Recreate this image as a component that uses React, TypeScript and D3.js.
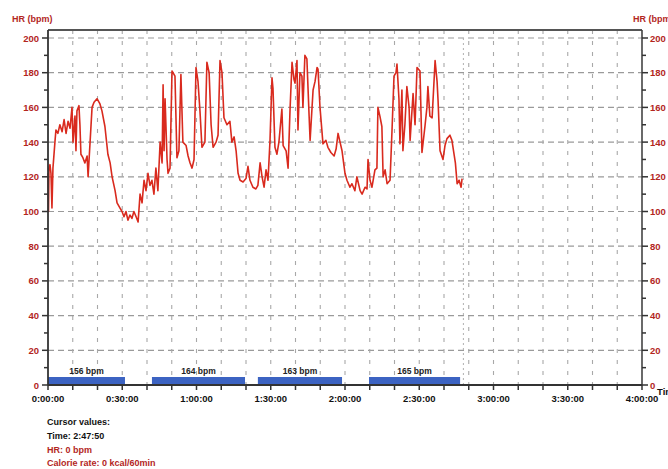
import React from "react";
import * as d3 from "d3";

// HR trace: [minutes, bpm]
const hrTrace: [number, number][] = [
  [0, 122], [0.2, 100], [0.4, 125], [0.8, 127], [1.2, 122], [1.6, 102], [2.0, 125], [2.8, 140],
  [3.2, 147], [4.0, 145], [4.8, 150], [5.7, 146], [6.5, 153], [7.3, 145], [8.1, 152], [8.9, 148],
  [9.7, 160], [10.1, 140], [10.9, 155], [11.3, 135], [11.7, 158], [12.5, 161], [12.9, 150], [13.3, 133],
  [14.1, 131], [14.9, 128], [15.8, 132], [16.2, 120], [17.0, 140], [17.8, 160], [18.6, 163], [19.8, 165],
  [21.0, 162], [21.8, 158], [23.0, 149], [24.2, 133], [25.1, 128], [25.9, 120], [27.1, 112], [27.9, 105],
  [29.1, 102], [29.9, 100], [30.7, 97], [31.5, 100], [32.3, 95], [33.1, 98], [33.9, 96], [34.7, 100],
  [35.6, 97], [36.4, 94], [37.2, 110], [38.0, 105], [38.8, 118], [39.6, 112], [40.4, 122], [41.2, 115],
  [42.0, 118], [42.8, 110], [43.6, 125], [44.4, 112], [45.3, 140], [46.1, 128], [46.5, 173], [46.9, 135],
  [47.3, 165], [48.1, 130], [48.5, 122], [49.3, 125], [50.1, 181], [51.3, 178], [52.1, 131], [52.9, 135],
  [53.7, 179], [54.5, 140], [55.8, 138], [56.6, 132], [57.4, 128], [58.2, 125], [59.0, 130], [59.8, 183],
  [60.6, 175], [61.4, 158], [62.2, 137], [63.4, 140], [64.2, 186], [65.1, 180], [65.9, 150], [66.7, 137],
  [67.9, 140], [68.7, 144], [69.5, 187], [70.3, 180], [71.1, 154], [72.3, 150], [73.5, 152], [74.3, 140],
  [75.2, 143], [76.0, 135], [76.8, 122], [77.6, 118], [78.8, 117], [80.0, 119], [80.8, 126], [81.6, 118],
  [82.8, 114], [84.0, 113], [84.8, 115], [85.7, 128], [86.5, 120], [87.3, 114], [88.1, 124], [88.9, 118],
  [89.7, 141], [90.5, 177], [90.9, 171], [91.7, 137], [92.5, 133], [93.3, 140], [94.5, 159], [95.0, 138],
  [96.2, 135], [97.0, 125], [97.8, 159], [98.6, 186], [99.4, 176], [99.8, 174], [100.6, 187], [101.0, 147],
  [101.8, 180], [102.6, 178], [103.0, 160], [103.8, 190], [104.6, 188], [105.5, 155], [105.9, 141], [107.1, 170],
  [107.9, 175], [108.7, 183], [109.1, 182], [109.9, 160], [111.1, 139], [112.3, 141], [113.1, 137], [114.3, 134],
  [115.6, 132], [116.4, 136], [117.2, 145], [118.0, 140], [118.8, 135], [120.0, 122], [120.8, 118], [122.0, 114],
  [122.8, 116], [124.0, 112], [124.8, 120], [126.1, 112], [126.9, 110], [128.1, 114], [128.9, 113], [129.3, 130],
  [130.1, 118], [130.9, 114], [132.1, 124], [132.9, 125], [133.3, 160], [134.1, 155], [134.9, 149], [135.4, 120],
  [136.2, 124], [137.0, 116], [138.2, 118], [139.0, 147], [139.8, 178], [140.6, 180], [141.0, 185], [141.8, 165],
  [142.2, 139], [143.0, 170], [143.4, 135], [144.2, 150], [145.0, 172], [145.9, 160], [146.3, 141], [147.5, 168],
  [148.3, 150], [149.1, 183], [150.3, 181], [151.1, 134], [152.3, 149], [153.1, 160], [153.5, 172], [154.3, 155],
  [155.2, 154], [156.4, 187], [157.2, 175], [157.6, 164], [158.4, 135], [159.6, 130], [160.4, 138], [161.2, 142],
  [162.4, 144], [163.2, 141], [164.6, 128], [165.3, 116], [166.1, 118], [166.9, 114], [167.3, 119],
];

// Interval bars: start/end minutes and labels
const intervalStarts = [0, 42, 84.8, 129.7];
const intervalEnds = [31.1, 79.6, 118.8, 166.5];
const intervalLabels = ["156 bpm", "164 bpm", "163 bpm", "165 bpm"];

const xTickMinutes = [0, 30, 60, 90, 120, 150, 180, 210, 240];
const xTickLabels = ["0:00:00", "0:30:00", "1:00:00", "1:30:00", "2:00:00", "2:30:00", "3:00:00", "3:30:00", "4:00:00"];
const yTickValues = [0, 20, 40, 60, 80, 100, 120, 140, 160, 180, 200];
const cursorMinute = 167.83;
const cursorLines = ["Cursor values:", "Time: 2:47:50", "HR: 0 bpm", "Calorie rate: 0 kcal/60min"];

const W = 668;
const H = 469;
const RED_TXT = "#b3261e";
const LINE = "#d92a1e";
const FONT = "'Liberation Sans', Arial, sans-serif";

export default function App() {
  const x = d3.scaleLinear().domain([0, 240]).range([48, 642]);
  const y = d3.scaleLinear().domain([0, 200]).range([385, 38]);
  const frameTop = 30;

  const line = d3
    .line<[number, number]>()
    .x((d) => x(d[0]))
    .y((d) => y(d[1]))
    .curve(d3.curveLinear);

  const minorX = d3.range(0, 241, 10);
  const minorY = d3.range(0, 201, 10);

  return (
    <svg
      width={W}
      height={H}
      style={{ position: "absolute", left: 0, top: 0, background: "#fff" }}
      fontFamily={FONT}
    >
      {/* horizontal grid */}
      {yTickValues.slice(1).map((v) => (
        <line key={"hg" + v} x1={x(0)} x2={x(240)} y1={y(v)} y2={y(v)} stroke="#9a9a9a" strokeWidth={1.2} strokeDasharray="6,4" />
      ))}
      {/* vertical grid */}
      {minorX.slice(1, -1).map((m) => (
        <line key={"vg" + m} x1={x(m)} x2={x(m)} y1={frameTop} y2={y(0)} stroke="#a8a8a8" strokeWidth={1.1} strokeDasharray="4,7" />
      ))}
      {/* cursor line */}
      <line x1={x(cursorMinute)} x2={x(cursorMinute)} y1={y(200)} y2={y(0)} stroke="#b0b0b0" strokeWidth={1} strokeDasharray="2,3" />

      {/* interval bars */}
      {intervalStarts.map((s, i) => (
        <g key={"iv" + i}>
          <rect x={x(s)} y={y(0) - 8} width={x(intervalEnds[i]) - x(s)} height={8} fill="#3c63c2" />
          <text
            x={(x(s) + x(intervalEnds[i])) / 2}
            y={y(0) - 11}
            textAnchor="middle"
            fontSize={8.5}
            fontWeight="bold"
            fill="#222"
          >
            {intervalLabels[i]}
          </text>
        </g>
      ))}

      {/* HR line */}
      <path d={line(hrTrace) || ""} fill="none" stroke={LINE} strokeWidth={1.6} strokeLinejoin="round" />

      {/* frame */}
      <line x1={x(0)} x2={x(240)} y1={frameTop} y2={frameTop} stroke="#555" strokeWidth={2} />
      <line x1={x(240)} x2={x(240)} y1={frameTop} y2={y(0)} stroke="#444" strokeWidth={1.6} />
      <line x1={x(0)} x2={x(0)} y1={frameTop} y2={y(0)} stroke="#333" strokeWidth={1.8} />
      <line x1={x(0)} x2={x(240)} y1={y(0)} y2={y(0)} stroke="#333" strokeWidth={1.8} />

      {/* y ticks */}
      {minorY.map((v) => {
        const major = v % 20 === 0;
        const len = major ? 6 : 4;
        return (
          <g key={"yt" + v}>
            <line x1={x(0) - len} x2={x(0)} y1={y(v)} y2={y(v)} stroke="#333" strokeWidth={1.5} />
            <line x1={x(240)} x2={x(240) + len} y1={y(v)} y2={y(v)} stroke="#333" strokeWidth={1.5} />
          </g>
        );
      })}
      {yTickValues.map((v) => (
        <g key={"yl" + v}>
          <text x={39} y={y(v) + 3.5} textAnchor="end" fontSize={9.5} fontWeight="bold" fill={RED_TXT}>
            {v}
          </text>
          <text x={650} y={y(v) + 3.5} textAnchor="start" fontSize={9.5} fontWeight="bold" fill={RED_TXT}>
            {v}
          </text>
        </g>
      ))}

      {/* x ticks */}
      {minorX.map((m) => (
        <line key={"xt" + m} x1={x(m)} x2={x(m)} y1={y(0)} y2={y(0) + 5} stroke="#333" strokeWidth={1.5} />
      ))}
      {xTickMinutes.map((m, i) => (
        <text key={"xl" + m} x={x(m)} y={402} textAnchor="middle" fontSize={9.5} fontWeight="bold" fill="#111">
          {xTickLabels[i]}
        </text>
      ))}
      <text x={657} y={395} fontSize={9.5} fontWeight="bold" fill="#111">Time</text>

      {/* axis titles */}
      <text x={12} y={22} fontSize={9} fontWeight="bold" fill={RED_TXT}>HR (bpm)</text>
      <text x={633} y={22} fontSize={9} fontWeight="bold" fill={RED_TXT}>HR (bpm)</text>

      {/* cursor values */}
      {cursorLines.map((t, i) => (
        <text key={"cv" + i} x={47} y={425 + i * 13.8} fontSize={9} fontWeight="bold" fill={i < 2 ? "#111" : RED_TXT}>
          {t}
        </text>
      ))}
    </svg>
  );
}
